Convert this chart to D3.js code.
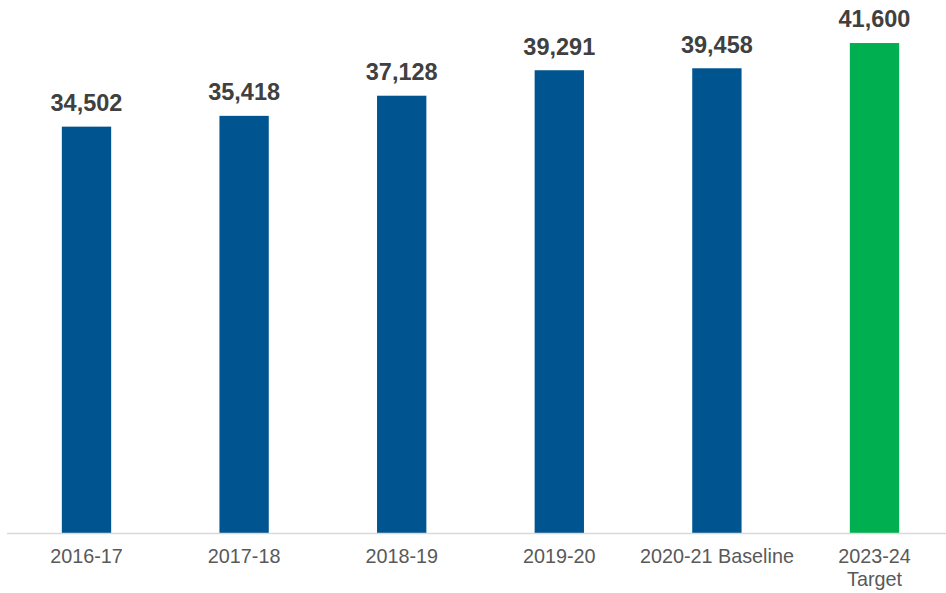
<!DOCTYPE html>
<html>
<head>
<meta charset="utf-8">
<script src="https://cdn.jsdelivr.net/npm/d3@7"></script>
<style>
  html, body { margin: 0; padding: 0; background: #fff; }
  svg { display: block; }
</style>
</head>
<body>
<svg id="chart" width="946" height="593"></svg>
<script>
// Annual totals, with the 2023-24 target shown in green
const categories = ["2016-17", "2017-18", "2018-19", "2019-20", "2020-21 Baseline", "2023-24\nTarget"];
const values = [34502, 35418, 37128, 39291, 39458, 41600];
const barColors = ["#00548F", "#00548F", "#00548F", "#00548F", "#00548F", "#00B050"];

const svg = d3.select("#chart");
const W = 946, H = 593;
const baseY = 533;

const x = d3.scaleBand()
  .domain(categories)
  .range([7.7, 953.3])
  .paddingInner(0.687)
  .paddingOuter(0.3435);

const y = d3.scaleLinear()
  .domain([0, 45000])
  .range([baseY, 3]);

// Bars
svg.append("g")
  .selectAll("rect")
  .data(values)
  .join("rect")
  .attr("x", (d, i) => x(categories[i]))
  .attr("y", d => y(d))
  .attr("width", x.bandwidth())
  .attr("height", d => y(0) - y(d))
  .attr("fill", (d, i) => barColors[i]);

// Category axis
const axis = svg.append("g")
  .attr("transform", `translate(0,${baseY})`)
  .call(d3.axisBottom(x).tickSize(0).tickFormat(""));
axis.select(".domain").remove();
axis.append("line")
  .attr("x1", 7).attr("x2", W)
  .attr("y1", 0.5).attr("y2", 0.5)
  .attr("stroke", "#D9D9D9")
  .attr("stroke-width", 1.5);

const fmt = d3.format(",");

// Category labels (multi-line where the name contains a break)
axis.selectAll(".tick").each(function(d) {
  const t = d3.select(this).append("text")
    .attr("text-anchor", "middle")
    .attr("fill", "#595959")
    .style("font-family", "'Liberation Sans', Arial, sans-serif")
    .style("font-size", "19.8px");
  d.split("\n").forEach((line, j) => {
    t.append("tspan")
      .attr("x", 0)
      .attr("y", 30 + j * 23)
      .text(line);
  });
});

// Value labels above bars
svg.append("g")
  .selectAll("text")
  .data(values)
  .join("text")
  .attr("x", (d, i) => x(categories[i]) + x.bandwidth() / 2)
  .attr("y", d => y(d) - 15.6)
  .attr("text-anchor", "middle")
  .attr("fill", "#404040")
  .style("font-family", "'Liberation Sans', Arial, sans-serif")
  .style("font-weight", "bold")
  .style("font-size", "23.5px")
  .text(d => fmt(d));
</script>
</body>
</html>
